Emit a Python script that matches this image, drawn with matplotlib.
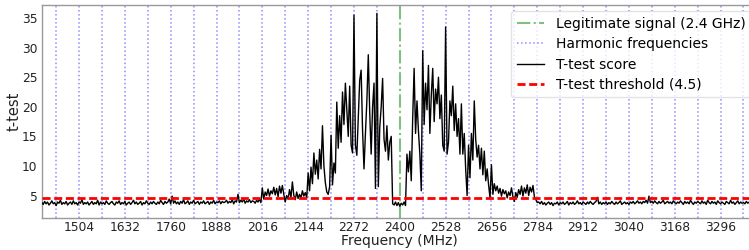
import numpy as np
import matplotlib
matplotlib.use("Agg")
import matplotlib.pyplot as plt

# ---------------- data ----------------
freq_start = 1400   # MHz
freq_step = 4       # MHz

score_left = [
    3.8, 3.5, 4.0, 3.6, 3.9, 3.4, 3.7, 4.1, 3.6, 3.8, 3.3, 3.9, 3.7, 4.2, 3.5, 3.8,
    3.6, 4.0, 3.4, 3.7, 3.9, 3.5, 4.1, 3.6, 3.8, 3.4, 3.9, 3.7, 4.3, 3.5, 3.8, 3.6,
    3.9, 3.4, 3.7, 4.0, 3.5, 3.8, 3.6, 4.2, 3.4, 3.9, 3.6, 3.8, 3.5, 4.1, 3.7, 3.5,
    3.8, 4.0, 3.6, 3.4, 3.9, 3.7, 4.1, 3.5, 3.8, 3.6, 4.0, 3.4, 3.7, 3.9, 3.5, 3.8,
    4.2, 3.6, 3.9, 3.5, 3.7, 4.0, 3.4, 3.8, 3.6, 4.1, 3.7, 3.5, 3.9, 3.6, 4.0, 3.7,
    3.5, 3.9, 3.6, 4.2, 3.8, 3.5, 4.0, 3.7, 3.9, 4.4, 3.6, 4.9, 3.7, 4.1, 3.6, 3.9,
    3.5, 4.0, 3.7, 4.3, 3.6, 3.8, 4.1, 3.5, 3.9, 3.7, 4.2, 3.6, 3.8, 4.0, 3.5, 3.9,
    3.7, 4.1, 3.6, 3.8, 4.0, 3.5, 3.9, 3.7, 4.2, 3.6, 3.9, 3.8, 4.1, 3.6, 4.0, 3.8,
    3.9, 4.2, 3.7, 4.0, 3.8, 4.3, 3.6, 4.1, 3.9, 5.2, 3.8, 4.2, 3.9, 4.4, 3.7, 4.1,
    3.9, 4.3, 3.8, 4.1, 4.0, 3.7, 4.2, 3.9, 4.4, 3.8,
]

score_center = [
    # 2016 - 2076
    6.3, 4.4, 5.6, 5.0, 6.1, 4.9, 5.8, 5.3, 6.4, 5.1, 6.2, 4.8, 6.6, 5.4, 6.7, 5.2,
    # 2080 - 2140
    3.9, 5.0, 4.4, 6.0, 4.7, 7.3, 5.0, 4.3, 5.6, 4.5, 5.2, 4.6, 5.8, 4.9, 5.5, 4.6,
    # 2144 - 2204
    8.8, 5.8, 9.8, 7.0, 12.2, 8.6, 11.0, 7.8, 12.8, 9.5, 16.8, 10.0, 7.2, 5.6, 5.2, 6.5,
    # 2208 - 2268
    15.2, 6.8, 10.5, 8.8, 20.8, 13.0, 18.5, 14.0, 22.5, 17.0, 24.0, 19.5, 15.0, 23.5, 13.5, 12.2,
    # 2272 - 2332
    35.5, 13.5, 11.8, 18.0, 24.5, 26.2, 16.0, 9.5, 15.5, 21.0, 28.8, 19.0, 12.0, 20.0, 24.0, 6.2,
    # 2336 - 2380
    35.8, 6.5, 16.5, 20.0, 24.8, 14.5, 12.5, 16.8, 11.0, 14.0, 15.0, 3.6,
    # 2384 - 2416
    3.4, 3.9, 3.3, 3.8, 3.2, 3.7, 3.4, 3.9, 3.3,
    # 2420 - 2460
    12.0, 9.0, 12.5, 7.5, 18.0, 26.5, 15.5, 21.0, 16.0, 12.0, 5.8,
    # 2464 - 2524
    29.5, 17.0, 24.0, 19.5, 27.0, 15.5, 22.0, 26.5, 17.5, 23.0, 20.5, 25.0, 18.0, 22.0, 13.5, 12.5,
    # 2528 - 2588
    33.5, 12.0, 14.0, 21.0, 18.5, 23.5, 16.0, 20.5, 15.0, 18.0, 12.0, 20.5, 12.0, 15.5, 9.5, 5.0,
    # 2592 - 2652
    13.5, 8.0, 15.5, 11.0, 21.0, 14.5, 11.5, 13.5, 9.5, 13.0, 8.5, 12.5, 7.5, 9.5, 6.8, 4.6,
    # 2656 - 2716
    10.2, 5.2, 7.0, 5.8, 6.6, 5.4, 6.2, 4.9, 6.0, 5.3, 5.8, 4.6, 5.6, 5.0, 6.3, 4.8,
    # 2720 - 2784
    4.0, 5.5, 4.7, 6.0, 5.2, 6.6, 4.9, 6.3, 5.4, 6.8, 5.0, 6.4, 5.6, 6.7, 4.8, 4.3, 3.8,
]

score_right = [
    3.9, 3.6, 4.0, 3.5, 3.8, 3.4, 3.7, 3.9, 3.5, 3.8, 3.3, 3.7, 3.6, 3.9, 3.4, 3.8,
    3.6, 3.9, 3.5, 3.7, 4.0, 3.4, 3.8, 3.6, 3.9, 3.5, 3.7, 4.1, 3.6, 3.8, 3.5, 3.9,
    3.7, 3.5, 3.9, 3.6, 4.0, 3.7, 3.5, 3.8, 4.0, 4.7, 3.6, 3.9, 3.5, 3.8, 3.6, 3.9,
    3.5, 3.8, 3.6, 4.0, 3.7, 3.5, 3.9, 3.6, 3.8, 4.1, 3.5, 3.7, 3.9, 3.6, 3.8, 3.5,
    3.9, 3.7, 4.0, 3.6, 3.8, 4.1, 3.7, 3.9, 3.6, 4.0, 3.8, 4.2, 3.7, 4.9, 3.8, 4.0,
    3.7, 4.1, 3.8, 3.6, 4.0, 3.7, 3.9, 4.2, 3.6, 3.8, 4.0, 3.7, 3.9, 3.6, 4.1, 3.8,
    3.6, 3.9, 3.7, 4.1, 3.8, 3.5, 4.0, 3.7, 3.9, 3.6, 4.2, 3.8, 3.5, 3.9, 3.7, 4.0,
    3.8, 3.6, 4.1, 3.7, 3.9, 3.5, 4.2, 3.8, 3.6, 4.0, 3.7, 3.9, 3.5, 4.1, 3.8, 3.6,
    3.9, 3.7, 3.5, 4.0, 3.8, 3.6, 4.2, 3.7, 3.9, 3.5, 3.8, 4.1, 3.6, 3.9, 3.7, 3.8,
    3.6, 4.0, 3.7, 3.9, 3.5, 3.8, 4.1, 3.6, 3.9, 3.7,
]

legit_freq = 2400
harmonic_freqs = [1440, 1504, 1568, 1632, 1696, 1760, 1824, 1888, 1952, 2016,
                  2080, 2144, 2208, 2272, 2336, 2464, 2528, 2592, 2656, 2720,
                  2784, 2848, 2912, 2976, 3040, 3104, 3168, 3232, 3296, 3360]
threshold = 4.5
xtick_labels = [1504, 1632, 1760, 1888, 2016, 2144, 2272, 2400, 2528,
                2656, 2784, 2912, 3040, 3168, 3296]
ytick_labels = [5, 10, 15, 20, 25, 30, 35]

score = np.array(score_left + score_center + score_right)
freq = freq_start + freq_step * np.arange(len(score))

# ---------------- plot ----------------
W, H = 749, 250
fig = plt.figure(figsize=(W / 100, H / 100), dpi=100)
ax = fig.add_axes([41.8 / W, 1 - 218 / H, 716 / W, 213.5 / H])

ax.axvline(legit_freq, color="green", alpha=0.5, linestyle="-.", lw=1.5,
           label="Legitimate signal (2.4 GHz)", zorder=2)
for i, h in enumerate(harmonic_freqs):
    ax.axvline(h, color="blue", alpha=0.45, linestyle=":", lw=1.1,
               label="Harmonic frequencies" if i == 0 else None, zorder=1)
ax.plot(freq, score, color="black", lw=1.0, label="T-test score", zorder=3)
ax.axhline(threshold, color="red", linestyle=(0, (2.9, 1.3)), lw=2,
           label="T-test threshold (4.5)", zorder=4)

ax.set_xlim(1400, 3400)
ax.set_ylim(1.2, 37.3)
ax.set_xticks(xtick_labels)
ax.set_yticks(ytick_labels)
ax.tick_params(axis="x", length=0, labelsize=8.8, pad=2, labelcolor="#222222")
ax.tick_params(axis="y", length=0, labelsize=8.8, pad=3, labelcolor="#222222")
for s in ax.spines.values():
    s.set_color("#999999")
    s.set_linewidth(1.0)

ax.set_xlabel("Frequency (MHz)", fontsize=10, labelpad=0.5, color="#222222")
ax.set_ylabel("t-test", fontsize=10.5, labelpad=0.3, color="#222222")

leg = ax.legend(loc="upper right", fontsize=10, frameon=True,
                borderaxespad=0.5, handlelength=2.0, handletextpad=0.8,
                labelspacing=0.45)
leg.get_frame().set_edgecolor("#dddddd")

fig.savefig("out.png", dpi=100)
